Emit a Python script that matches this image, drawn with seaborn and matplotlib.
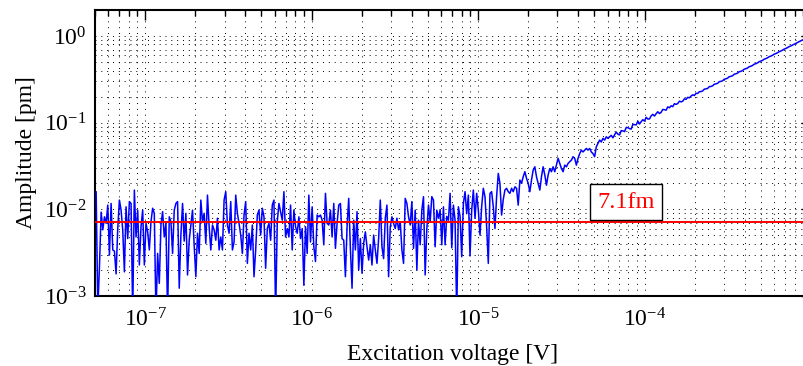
import numpy as np
import pandas as pd
import matplotlib
matplotlib.use("Agg")
import matplotlib.pyplot as plt
import seaborn as sns
from matplotlib.ticker import FixedLocator, LogLocator, NullFormatter, LogFormatterSciNotation

# ---- data (amplitude in fm, left to right) ----
noise_a = [16.0, 0.7, 2.2, 9.3, 5.8, 8.2, 6.9, 11.2, 2.97, 11.7,
           3.4, 3.3, 1.8, 6.0, 12.8, 9.8, 5.8, 1.9, 10.7, 4.6,
           12.3, 11.7, 0.6, 16.7, 4.8, 9.8, 2.28, 6.3, 9.8, 2.28,
           6.9, 5.5, 3.4, 7.2, 10.3, 9.0, 0.6, 3.1, 1.4, 6.6,
           9.4, 4.8, 6.9, 0.6, 8.2, 7.2, 3.1, 9.8, 11.7, 12.3,
           1.23, 5.05, 11.7, 4.3, 9.0, 1.75, 4.4, 6.6, 9.8, 3.8,
           1.67, 5.3, 3.1, 12.8, 7.2, 9.0, 4.05, 14.6, 6.3, 3.4,
           6.6, 5.8, 4.4, 7.9, 3.4, 4.8, 3.4, 12.8, 16.0, 6.6,
           5.3, 12.3, 3.4, 4.2, 14.6, 9.0, 6.9, 5.05, 3.1, 8.6,
           12.3, 2.38, 5.3, 3.4, 6.6, 1.67, 3.4, 8.6, 9.8, 5.05,
           10.3, 8.2, 2.09, 6.0, 6.9, 4.4, 11.2, 12.8, 0.6, 7.2,
           11.7, 9.4, 7.5, 16.0, 4.8, 6.0]
noise_b = [4.8, 11.2, 3.4, 9.8, 6.3, 5.3, 8.2, 4.6, 6.0, 1.33,
           6.3, 3.1, 14.6, 4.2, 10.7, 3.7, 2.5, 8.6, 8.2, 8.6,
           7.5, 3.9, 15.3, 6.9, 6.6, 9.8, 4.8, 11.7, 3.55, 6.9,
           11.2, 11.7, 4.6, 4.4, 1.67, 6.3, 13.4, 3.55, 1.23, 7.5,
           3.4, 9.4, 2.0, 4.6, 1.83, 4.05, 5.5, 3.7, 2.6, 3.9,
           2.28, 5.05, 3.4, 2.38, 4.6, 12.8, 3.7, 2.7, 7.9, 11.2,
           1.67, 6.3, 8.2, 6.9, 6.0, 7.9, 5.8, 7.2, 3.4, 2.38,
           13.4, 11.7, 8.2, 6.6, 12.3, 3.55, 9.8, 2.0, 7.5, 3.9,
           9.8, 14.0, 1.75, 6.0, 11.2, 7.2, 14.0, 12.8, 3.7, 9.8,
           7.9]
noise_c = [9.8, 3.9, 10.7, 3.9, 8.3, 7.5, 15.3, 3.6, 11.2, 7.5,
           0.6, 10.7, 8.3, 2.84, 11.7, 16.0, 8.9, 14.6, 2.9, 9.8,
           16.7, 7.9, 15.3, 9.8, 5.05, 10.7, 17.5, 14.0, 6.3, 2.38,
           15.3]
rise_a = [16.0, 10.7, 6.0, 14.0, 26.0, 20.0, 8.6, 13.0, 16.7, 17.5,
          16.0, 15.3, 17.5, 16.0, 18.2, 17.5, 11.2, 21.8, 20.0, 23.8,
          27.2, 22.8, 20.0, 16.0, 21.8, 28.4, 31.0, 23.8, 20.0, 16.7,
          23.8, 31.0, 24.9, 19.0, 24.9, 29.6, 27.2, 31.0, 27.2, 32.4,
          38.8, 33.9, 29.6, 27.2, 32.4, 31.0, 33.9, 35.5, 37.0, 40.5,
          38.8, 32.4, 38.8, 44.0, 48.3, 46.0, 48.3, 50.5, 48.3, 50.5,
          46.0, 44.0, 40.5, 52.8, 57.5, 63.0, 60.0, 66.0, 63.0, 68.8,
          66.0, 68.8]
rise_b = [71.5, 66.9, 72.6, 78.0, 73.7, 72.3, 81.1, 80.5, 79.0, 88.3,
          87.7, 85.4, 84.6, 95.7, 95.0, 94.3, 104.3, 96.6, 102.9, 108.4,
          104.4, 115.5, 110.3, 110.5, 120.1, 124.9, 119.3, 127.1, 133.8, 127.6,
          131.8, 142.4, 141.4, 139.6, 152.2, 148.9, 156.9, 153.4, 165.7, 162.9,
          166.5, 177.2, 174.1, 177.2, 188.6, 186.2, 196.2, 193.8, 203.2, 209.8,
          206.2, 218, 218, 228, 229, 233, 244, 246, 249, 261,
          262, 267, 278, 281, 285, 298, 300, 305, 318, 321,
          327, 340, 343, 349, 363, 367, 374, 388, 392, 400,
          415, 420, 428, 443, 449, 458, 474, 480, 490, 506,
          514, 524, 541, 549, 561, 578, 587, 600, 618, 628,
          642, 660, 672, 687, 706, 719, 735, 755, 769, 786,
          806, 822, 841, 862, 880, 899, 921]

amp_fm = noise_a + noise_b + noise_c + rise_a + rise_b
v_first, v_last = 5.08e-8, 9.08e-4          # sweep range [V]
floor_pm = 7.1e-3
floor_label = "7.1fm"
x_label = "Excitation voltage [V]"
y_label = "Amplitude [pm]"
x_ticks = [1e-7, 1e-6, 1e-5, 1e-4]
y_ticks = [1e-3, 1e-2, 1e-1, 1e0]

voltage = np.geomspace(v_first, v_last, len(amp_fm))
df = pd.DataFrame({"voltage": voltage, "amplitude": np.array(amp_fm) / 1000.0})

# ---- style ----
sns.set_theme(style="white")
plt.rcParams["font.family"] = ["Liberation Serif", "DejaVu Serif"]
plt.rcParams["mathtext.fontset"] = "custom"
plt.rcParams["mathtext.rm"] = "Liberation Serif"
plt.rcParams["mathtext.it"] = "Liberation Serif:italic"
plt.rcParams["mathtext.bf"] = "Liberation Serif:bold"

fig = plt.figure(figsize=(8.04, 3.66), dpi=100)
fig.patch.set_facecolor("white")
ax = fig.add_axes([95 / 804, 70 / 366, 716 / 804, 286 / 366])
ax.set_facecolor("white")

sns.lineplot(data=df, x="voltage", y="amplitude", ax=ax, color="#0000ff",
             linewidth=1.1, estimator=None, sort=False, zorder=3)
ax.axhline(floor_pm, color="#ff0000", linewidth=1.4, zorder=4)

ax.set_xscale("log")
ax.set_yscale("log")
ax.set_xlim(5e-8, 1e-3)
ax.set_ylim(1e-3, 2.0)

ax.xaxis.set_major_locator(FixedLocator(x_ticks))
ax.yaxis.set_major_locator(FixedLocator(y_ticks))
ax.xaxis.set_major_formatter(LogFormatterSciNotation())
ax.yaxis.set_major_formatter(LogFormatterSciNotation())
ax.xaxis.set_minor_locator(LogLocator(base=10, subs=np.arange(2, 10), numticks=100))
ax.yaxis.set_minor_locator(LogLocator(base=10, subs=np.arange(2, 10), numticks=100))
ax.xaxis.set_minor_formatter(NullFormatter())
ax.yaxis.set_minor_formatter(NullFormatter())

# MATLAB-like dotted grid (major + minor)
ax.grid(True, which="both", color="black", linestyle=(0, (1, 5)), linewidth=0.7)
ax.set_axisbelow(True)

for s in ax.spines.values():
    s.set_color("black")
    s.set_linewidth(1.5)
    s.set_visible(True)

ax.tick_params(which="both", direction="in", top=True, right=True,
               colors="black", width=1.0)
ax.tick_params(which="major", length=7, labelsize=17)
ax.tick_params(axis="x", which="major", pad=9)
ax.tick_params(axis="y", which="major", pad=6)
ax.tick_params(which="minor", length=4)

ax.set_xlabel(x_label, fontsize=17, color="black", labelpad=9)
ax.set_ylabel(y_label, fontsize=17, color="black", labelpad=5)

ax.text(7.7e-5, 0.0121, floor_label, color="#ff0000", fontsize=17.5,
        ha="center", va="center", zorder=6,
        bbox=dict(boxstyle="square,pad=0.3", fc="white", ec="black", lw=1.0))

fig.savefig("out.png", dpi=100, facecolor="white")
